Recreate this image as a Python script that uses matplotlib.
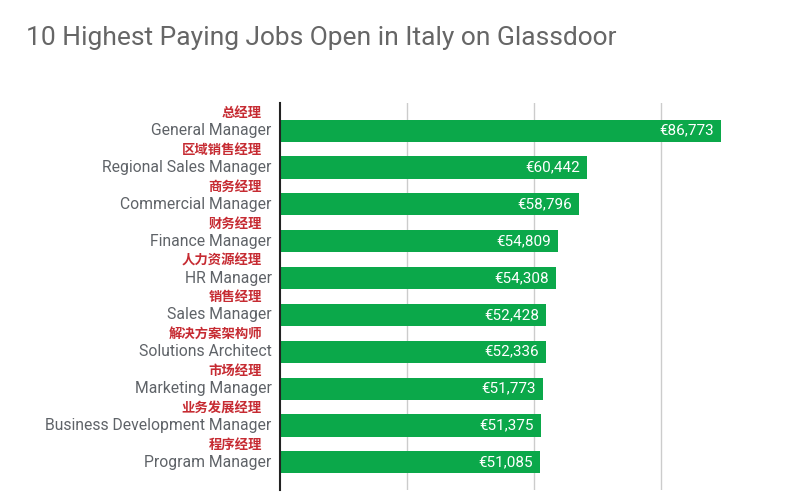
import matplotlib.pyplot as plt
import matplotlib.transforms as mtransforms

# data
jobs_en = ['General Manager', 'Regional Sales Manager', 'Commercial Manager',
           'Finance Manager', 'HR Manager', 'Sales Manager', 'Solutions Architect',
           'Marketing Manager', 'Business Development Manager', 'Program Manager']
jobs_cn = ['总经理', '区域销售经理', '商务经理', '财务经理', '人力资源经理',
           '销售经理', '解决方案架构师', '市场经理', '业务发展经理', '程序经理']
salaries = [86773, 60442, 58796, 54809, 54308, 52428, 52336, 51773, 51375, 51085]

bar_color = '#0ba84a'
grey_text = '#5f6368'
red_text = '#c62b32'

plt.rcParams['font.family'] = ['Roboto', 'Noto Sans CJK SC', 'DejaVu Sans']

fig = plt.figure(figsize=(7.92, 5.0), dpi=100)
ax = fig.add_axes([0.3535, 0.02, 0.6415, 0.774])

y = list(range(len(jobs_en)))
ax.barh(y, salaries, height=0.6, color=bar_color, zorder=2)

ax.set_xlim(0, 100000)
ax.set_ylim(9.75, -0.75)
ax.set_xticks([25000, 50000, 75000])
ax.xaxis.grid(True, color='#cccccc', linewidth=1, zorder=0)
ax.tick_params(left=False, bottom=False, labelleft=False, labelbottom=False)
for side in ['top', 'right', 'bottom']:
    ax.spines[side].set_visible(False)
ax.spines['left'].set_linewidth(1.5)
ax.spines['left'].set_color('#222222')
ax.spines['left'].set_zorder(3)

trans = mtransforms.blended_transform_factory(ax.transAxes, ax.transData)
for i, (en, cn, val) in enumerate(zip(jobs_en, jobs_cn, salaries)):
    off_en = mtransforms.offset_copy(trans, fig=fig, x=-6, y=0, units='points')
    ax.text(0, i, en, transform=off_en, ha='right', va='center',
            fontsize=11.3, color=grey_text)
    off_cn = mtransforms.offset_copy(trans, fig=fig, x=-13, y=0, units='points')
    ax.text(0, i - 0.48, cn, transform=off_cn, ha='right', va='center',
            fontsize=9.6, color=red_text, fontweight='bold',
            family=['Noto Sans CJK SC', 'DejaVu Sans'])
    off_val = mtransforms.offset_copy(ax.transData, fig=fig, x=-5, y=0, units='points')
    ax.text(val, i, '€{:,}'.format(val), transform=off_val, ha='right', va='center',
            fontsize=11, color='white')

fig.text(26 / 792, 1 - 38 / 500, '10 Highest Paying Jobs Open in Italy on Glassdoor',
         ha='left', va='center', fontsize=19, color='#666666')

fig.savefig('out.png', dpi=100, facecolor='white')
